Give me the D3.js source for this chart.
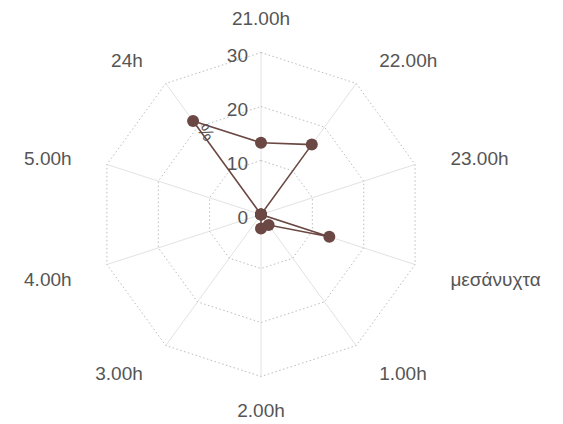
<!DOCTYPE html>
<html>
<head>
<meta charset="utf-8">
<script src="https://cdn.jsdelivr.net/npm/d3@7"></script>
<style>
  html, body { margin: 0; padding: 0; background: #ffffff; }
  svg { display: block; font-family: "Liberation Sans", Arial, sans-serif; }
</style>
</head>
<body>
<svg id="chart" width="563" height="424"></svg>
<script>
const categories = ["21.00h", "22.00h", "23.00h", "μεσάνυχτα", "1.00h", "2.00h", "3.00h", "4.00h", "5.00h", "24h"];
const values = [13.3, 16.0, 0, 13.3, 2.4, 2.6, 0, 0, 0, 21.4];
const radialTicks = [0, 10, 20, 30];
const axisTitle = "%";

const W = 563, H = 424;
const cx = 261, cy = 214.5, R = 162;
const svg = d3.select("#chart");
const g = svg.append("g").attr("transform", `translate(${cx},${cy})`);

const r = d3.scaleLinear().domain([0, 30]).range([0, R]);
const angle = d3.scaleLinear().domain([0, categories.length]).range([0, 2 * Math.PI]);
const px = (i, v) => r(v) * Math.sin(angle(i));
const py = (i, v) => -r(v) * Math.cos(angle(i));

// spokes
g.selectAll("line.spoke").data(categories).join("line")
  .attr("class", "spoke")
  .attr("x1", 0).attr("y1", 0)
  .attr("x2", (d, i) => px(i, 30)).attr("y2", (d, i) => py(i, 30))
  .attr("stroke", "#e2e2e2").attr("stroke-width", 1);

// rings (polygons)
const ringLine = d3.lineRadial().angle((d, i) => angle(i)).radius(d => r(d)).curve(d3.curveLinearClosed);
g.selectAll("path.ring").data(radialTicks.filter(t => t > 0)).join("path")
  .attr("class", "ring")
  .attr("d", t => ringLine(categories.map(() => t)))
  .attr("fill", "none").attr("stroke", "#bcbcbc").attr("stroke-width", 1)
  .attr("stroke-dasharray", "1.5,2.5");

// radial tick labels
g.selectAll("text.rtick").data(radialTicks).join("text")
  .attr("class", "rtick")
  .attr("x", -13).attr("y", t => -r(t) + 3)
  .attr("dy", "0.35em")
  .attr("text-anchor", "end")
  .attr("font-size", 19).attr("fill", "#555555")
  .text(t => t);

// category labels
const LD = R + 34;
g.selectAll("text.cat").data(categories).join("text")
  .attr("class", "cat")
  .each(function(d, i) {
    const a = angle(i);
    const s = Math.sin(a), c = Math.cos(a);
    let anchor = "middle", xo = 0, yo = 0;
    if (s > 0.1) { anchor = "start"; xo = 3; }
    else if (s < -0.1) { anchor = "end"; xo = -3; }
    if (Math.abs(s) > 0.1 && c > -0.5) yo = 4;
    d3.select(this)
      .attr("x", LD * s + xo)
      .attr("y", -LD * c + yo)
      .attr("dy", "0.35em")
      .attr("text-anchor", anchor);
  })
  .attr("font-size", 19).attr("fill", "#555555")
  .text(d => d);

// axis title
g.append("text")
  .attr("transform", `translate(-55,-82) rotate(-126)`)
  .attr("text-anchor", "middle").attr("dy", "0.35em")
  .attr("font-size", 18).attr("fill", "#555555")
  .text(axisTitle);

// series line
const seriesLine = d3.lineRadial().angle((d, i) => angle(i)).radius(d => r(d)).curve(d3.curveLinearClosed);
const color = "#6b4843";
g.append("path")
  .attr("d", seriesLine(values))
  .attr("fill", "none").attr("stroke", color).attr("stroke-width", 1.6);

g.selectAll("circle.pt").data(values).join("circle")
  .attr("class", "pt")
  .attr("cx", (d, i) => px(i, d)).attr("cy", (d, i) => py(i, d))
  .attr("r", 6).attr("fill", color);
</script>
</body>
</html>
